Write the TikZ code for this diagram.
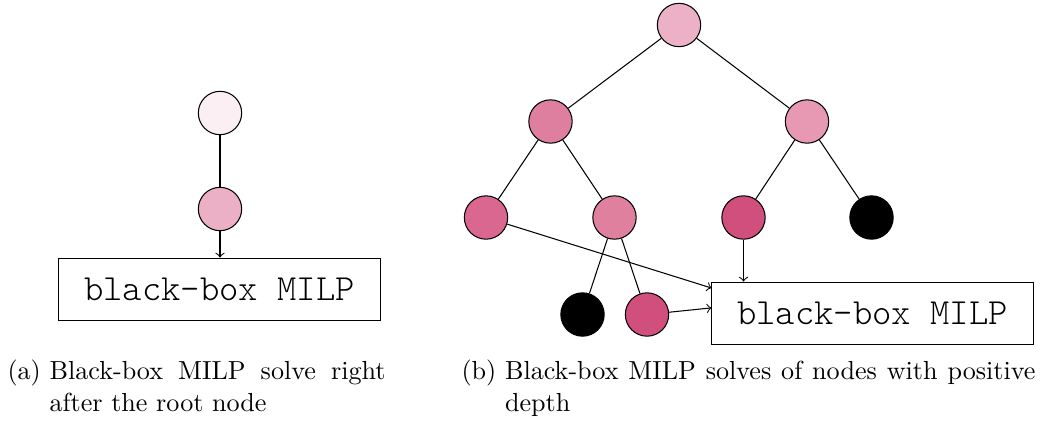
\documentclass[tikz,border=0pt]{standalone}
\usetikzlibrary{calc}
\definecolor{ca1}{HTML}{FBEFF3}
\definecolor{ca2}{HTML}{EBB0C5}
\definecolor{cb0}{HTML}{ECB1C6}
\definecolor{cb1}{HTML}{DF7F9F}
\definecolor{cb2}{HTML}{E799B4}
\definecolor{cb3}{HTML}{DA6790}
\definecolor{cb4}{HTML}{DF809F}
\definecolor{cb5}{HTML}{D14F7D}
\newlength\capind
\begin{document}
\begin{tikzpicture}[x=0.383pt,y=-0.383pt,
  tnode/.style={circle,draw,inner sep=0pt,minimum size=16.6pt},
  milp/.style={draw,inner sep=0pt,minimum width=123pt,minimum height=24.1pt,font=\fontsize{14.1}{17}\ttfamily\fontseries{l}\selectfont},
  conn/.style={draw},
  arr/.style={draw,->},
  capt/.style={anchor=base west,inner sep=0pt,font=\fontsize{10}{12.6}\selectfont}]
\useasboundingbox (0,0) rectangle (1049,421);
% (a)
\node[tnode,fill=ca1] (a1) at (220,113) {};
\node[tnode,fill=ca2] (a2) at (220,209) {};
\node[milp] (boxa) at (219.5,289.5) {black-box MILP};
\draw[conn] (a1) -- (a2);
\draw[arr] (a2) -- (a2 |- boxa.north);
% (b)
\node[tnode,fill=cb0] (r) at (679,25) {};
\node[tnode,fill=cb1] (l) at (550.5,121.5) {};
\node[tnode,fill=cb2] (rr) at (807,121.5) {};
\node[tnode,fill=cb3] (ll) at (486,217.5) {};
\node[tnode,fill=cb4] (lr) at (614.5,217.5) {};
\node[tnode,fill=cb5] (rl) at (743.5,217.5) {};
\node[tnode,fill=black] (rrr) at (871.5,217.5) {};
\node[tnode,fill=black] (lrl) at (582.5,314.5) {};
\node[tnode,fill=cb5] (lrr) at (647,314.5) {};
\node[milp] (boxb) at (872.5,313.5) {black-box MILP};
\draw[conn] (r) -- (l);
\draw[conn] (r) -- (rr);
\draw[conn] (l) -- (ll);
\draw[conn] (l) -- (lr);
\draw[conn] (rr) -- (rl);
\draw[conn] (rr) -- (rrr);
\draw[conn] (lr) -- (lrl);
\draw[conn] (lr) -- (lrr);
\draw[arr] (ll) -- (boxb.171);
\draw[arr] (lrr) -- (boxb.178);
\draw[arr] (rl) -- (rl |- boxb.north);
% captions
\node[capt] (capa) at (7,379) {\settowidth{\capind}{(a)\ }\parbox[t]{144.8pt}{\hangindent=\capind\hangafter=1\noindent\makebox[\capind][l]{(a)}Black-box MILP solve right\linebreak after the root node}};
\node[capt] (capb) at (461,379) {\settowidth{\capind}{(b)\ }\parbox[t]{219.8pt}{\hangindent=\capind\hangafter=1\noindent\makebox[\capind][l]{(b)}Black-box MILP solves of nodes with positive\linebreak depth}};
\end{tikzpicture}
\end{document}
